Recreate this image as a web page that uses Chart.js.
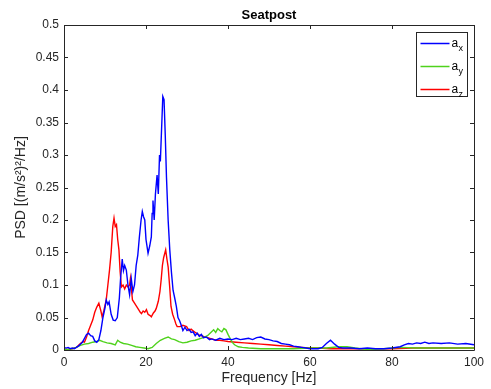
<!DOCTYPE html>
<html>
<head>
<meta charset="utf-8">
<script src="https://cdn.jsdelivr.net/npm/chart.js@4/dist/chart.umd.min.js"></script>
<style>
  body { margin: 0; background: #fff; }
  #wrap { width: 491px; height: 389px; position: relative; }
</style>
</head>
<body>
<div id="wrap"><canvas id="psdChart"></canvas></div>
<script>
// PSD of seatpost acceleration, one list per axis
const freqX = [0, 0.5, 1, 1.5, 2, 2.5, 3, 3.5, 4, 4.5, 5, 5.5, 6, 6.5, 7, 7.5, 8, 8.5, 9, 9.5,
  10, 10.3, 10.7, 11, 11.5, 12, 12.5, 13, 13.5, 13.8, 14.2, 14.5, 14.8, 15.2, 15.6, 16, 16.4, 16.8, 17.2, 17.6,
  18, 18.4, 18.8, 19.1, 19.4, 19.7, 20, 20.5, 20.9, 21.3, 21.5, 21.7, 22, 22.3, 22.7, 23, 23.3, 23.5, 23.8, 24.1,
  24.4, 24.7, 25, 25.4, 25.8, 26.2, 26.6, 27, 27.4, 27.8, 28.2, 28.6, 29, 29.5, 30, 30.5, 31, 31.5, 32, 32.5,
  33, 33.5, 34, 34.7, 35.5, 36, 37, 38, 39, 40, 41, 42, 43, 44, 45, 46, 47, 48, 49, 50,
  51, 52, 53, 54, 55, 56, 57, 58, 59, 60, 61, 62, 63, 64, 65, 66, 67, 68, 70, 72,
  74, 76, 78, 80, 82, 83, 84, 85, 86, 87, 88, 89, 90, 92, 94, 96, 98, 100];
const psdX = [0.004, 0.003, 0.004, 0.002, 0.003, 0.002, 0.004, 0.006, 0.009, 0.012, 0.018, 0.024, 0.026, 0.022, 0.021, 0.014, 0.012, 0.016, 0.03, 0.05,
  0.065, 0.077, 0.07, 0.074, 0.055, 0.046, 0.045, 0.05, 0.08, 0.11, 0.14, 0.122, 0.13, 0.123, 0.1, 0.085, 0.11, 0.09, 0.1, 0.13,
  0.146, 0.175, 0.2, 0.213, 0.205, 0.2, 0.17, 0.149, 0.16, 0.174, 0.21, 0.23, 0.2, 0.24, 0.269, 0.24, 0.3, 0.29, 0.34, 0.39,
  0.385, 0.33, 0.265, 0.2, 0.154, 0.12, 0.092, 0.08, 0.067, 0.05, 0.045, 0.038, 0.03, 0.035, 0.03, 0.032, 0.027, 0.028, 0.022, 0.026,
  0.021, 0.024, 0.019, 0.02, 0.016, 0.017, 0.015, 0.018, 0.016, 0.017, 0.016, 0.018, 0.016, 0.017, 0.018, 0.016, 0.019, 0.02, 0.017, 0.016,
  0.014, 0.013, 0.01, 0.009, 0.008, 0.006, 0.005, 0.004, 0.003, 0.002, 0.002, 0.002, 0.004, 0.01, 0.015, 0.009, 0.004, 0.003, 0.003, 0.002,
  0.003, 0.002, 0.002, 0.003, 0.005, 0.008, 0.01, 0.009, 0.011, 0.01, 0.012, 0.01, 0.011, 0.01, 0.011, 0.009, 0.01, 0.008];

const freqY = [0, 1, 2, 3, 4, 5, 6, 7, 8, 8.7, 9.5, 10.5, 11.5, 12.5, 13.1, 13.7, 14.5, 15.5, 16.5, 17.5,
  18.5, 19.5, 20.5, 21.5, 22.5, 23.5, 24.5, 25.4, 26.2, 27, 28, 29, 30, 31, 32, 33, 34, 35, 36, 36.5,
  37, 37.5, 38, 38.5, 39, 39.5, 40, 40.5, 41, 41.6, 42.5, 43.5, 45, 48, 52, 56, 60, 64, 67, 69,
  71, 74, 78, 82, 86, 90, 95, 100];
const psdY = [0.001, 0.001, 0.002, 0.004, 0.007, 0.009, 0.01, 0.012, 0.013, 0.015, 0.013, 0.011, 0.01, 0.008, 0.015, 0.012, 0.01, 0.009, 0.007, 0.005,
  0.004, 0.003, 0.002, 0.004, 0.01, 0.015, 0.018, 0.02, 0.017, 0.016, 0.013, 0.011, 0.012, 0.014, 0.015, 0.017, 0.019, 0.022, 0.028, 0.031,
  0.027, 0.033, 0.03, 0.028, 0.033, 0.031, 0.024, 0.018, 0.012, 0.008, 0.005, 0.004, 0.003, 0.002, 0.002, 0.002, 0.003, 0.003, 0.005, 0.005,
  0.003, 0.001, 0.002, 0.004, 0.003, 0.003, 0.003, 0.003];

const freqZ = [0, 1, 2, 3, 3.5, 4, 4.6, 5, 5.5, 6, 6.5, 7, 7.5, 8, 8.5, 9, 9.3, 9.7, 10.3, 10.7,
  11.1, 11.5, 11.9, 12.2, 12.5, 12.8, 13.1, 13.4, 13.7, 14, 14.4, 14.8, 15.2, 15.6, 16, 16.2, 16.5, 16.7, 17.2, 17.7,
  18.2, 18.6, 18.9, 19.3, 19.7, 20.1, 20.5, 21, 21.3, 21.8, 22.2, 22.5, 23, 23.4, 23.7, 24, 24.3, 24.8, 25.1, 25.4,
  25.8, 26.1, 26.5, 27, 27.3, 27.6, 28.3, 29, 29.9, 30.5, 31, 32, 33, 34, 35, 36, 37, 38, 39, 40,
  42, 44, 46, 48, 50, 52, 54, 56, 58, 60, 62, 65, 70, 75, 80, 85, 90, 95, 100];
const psdZ = [0.001, 0.001, 0.002, 0.004, 0.007, 0.01, 0.013, 0.012, 0.02, 0.03, 0.038, 0.046, 0.058, 0.066, 0.072, 0.06, 0.051, 0.06, 0.077, 0.1,
  0.123, 0.15, 0.19, 0.203, 0.19, 0.193, 0.17, 0.154, 0.12, 0.097, 0.1, 0.094, 0.1, 0.097, 0.1, 0.11, 0.09, 0.077, 0.072, 0.067,
  0.062, 0.058, 0.056, 0.06, 0.058, 0.062, 0.055, 0.053, 0.051, 0.057, 0.06, 0.064, 0.075, 0.09, 0.108, 0.13, 0.142, 0.154, 0.14, 0.128,
  0.095, 0.067, 0.055, 0.046, 0.04, 0.036, 0.036, 0.038, 0.036, 0.03, 0.032, 0.027, 0.023, 0.021, 0.019, 0.017, 0.015, 0.015, 0.014, 0.013,
  0.012, 0.011, 0.01, 0.009, 0.008, 0.007, 0.006, 0.005, 0.004, 0.003, 0.003, 0.002, 0.002, 0.002, 0.002, 0.003, 0.003, 0.003, 0.003];

const seriesNames = ['x', 'y', 'z'];
const seriesColors = ['#0000ff', '#4fd21c', '#ff0000'];

const AXIS_COLOR = '#262626';
const FONT = 'Arial, "Liberation Sans", Helvetica, sans-serif';

const toPoints = (xs, ys) => xs.map((x, i) => ({ x: x, y: ys[i] }));

// box + inward tick marks, matlab style
const frameTicks = {
  id: 'frameTicks',
  afterDatasetsDraw(chart) {
    const { ctx, chartArea: a, scales } = chart;
    const len = 4;
    ctx.save();
    ctx.strokeStyle = AXIS_COLOR;
    ctx.lineWidth = 1;
    ctx.beginPath();
    ctx.rect(Math.round(a.left) + 0.5, Math.round(a.top) + 0.5,
      Math.round(a.right - a.left), Math.round(a.bottom - a.top));
    scales.x.ticks.forEach(t => {
      const px = Math.round(scales.x.getPixelForValue(t.value)) + 0.5;
      ctx.moveTo(px, a.bottom); ctx.lineTo(px, a.bottom - len);
      ctx.moveTo(px, a.top); ctx.lineTo(px, a.top + len);
    });
    scales.y.ticks.forEach(t => {
      const py = Math.round(scales.y.getPixelForValue(t.value)) + 0.5;
      ctx.moveTo(a.left, py); ctx.lineTo(a.left + len, py);
      ctx.moveTo(a.right, py); ctx.lineTo(a.right - len, py);
    });
    ctx.stroke();
    ctx.restore();
  },
  afterDraw(chart) {
    const { ctx, chartArea: a } = chart;
    ctx.save();
    // title
    ctx.fillStyle = '#000';
    ctx.font = 'bold 13px ' + FONT;
    ctx.textAlign = 'center';
    ctx.textBaseline = 'alphabetic';
    ctx.fillText('Seatpost', (a.left + a.right) / 2, 19);

    // legend with subscripted labels
    const bx = Math.round(a.right) - 57.5, by = 32.5, bw = 51, bh = 64;
    ctx.fillStyle = '#fff';
    ctx.fillRect(bx, by, bw, bh);
    ctx.strokeStyle = AXIS_COLOR;
    ctx.lineWidth = 1;
    ctx.strokeRect(bx, by, bw, bh);
    seriesNames.forEach((name, i) => {
      const y = by + 11 + i * 23;
      ctx.strokeStyle = seriesColors[i];
      ctx.lineWidth = 1.5;
      ctx.beginPath();
      ctx.moveTo(bx + 4, y); ctx.lineTo(bx + 33, y);
      ctx.stroke();
      ctx.fillStyle = '#000';
      ctx.textAlign = 'left';
      ctx.font = '12px ' + FONT;
      ctx.fillText('a', bx + 35, y + 3);
      ctx.font = '9px ' + FONT;
      ctx.fillText(name, bx + 42, y + 7);
    });
    ctx.restore();
  }
};

new Chart(document.getElementById('psdChart'), {
  type: 'line',
  data: {
    datasets: [
      { label: 'a_x', data: toPoints(freqX, psdX), borderColor: seriesColors[0] },
      { label: 'a_y', data: toPoints(freqY, psdY), borderColor: seriesColors[1] },
      { label: 'a_z', data: toPoints(freqZ, psdZ), borderColor: seriesColors[2] }
    ]
  },
  options: {
    responsive: true,
    maintainAspectRatio: false,
    animation: false,
    layout: { padding: { left: 0, right: 17, top: 25, bottom: 0 } },
    elements: {
      point: { radius: 0 },
      line: { borderWidth: 1.4, tension: 0 }
    },
    plugins: {
      legend: { display: false },
      tooltip: { enabled: false }
    },
    scales: {
      x: {
        type: 'linear',
        min: 0,
        max: 100,
        grid: { display: false, drawTicks: false },
        border: { display: false },
        ticks: { stepSize: 20, padding: 5, color: AXIS_COLOR, font: { family: FONT, size: 12 } },
        title: {
          display: true,
          text: 'Frequency [Hz]',
          color: AXIS_COLOR,
          font: { family: FONT, size: 14 },
          padding: { top: 0, bottom: 2 }
        },
        afterFit(scale) { scale.height = 39; }
      },
      y: {
        min: 0,
        max: 0.5,
        grid: { display: false, drawTicks: false },
        border: { display: false },
        ticks: {
          stepSize: 0.05,
          padding: 5,
          color: AXIS_COLOR,
          font: { family: FONT, size: 12 },
          callback: v => String(+v.toFixed(2))
        },
        title: {
          display: true,
          text: 'PSD [(m/s\u00b2)\u00b2/Hz]',
          color: AXIS_COLOR,
          font: { family: FONT, size: 14 },
          padding: { top: 13, bottom: 0 }
        },
        afterFit(scale) { scale.width = 64; }
      }
    }
  },
  plugins: [frameTicks]
});
</script>
</body>
</html>
